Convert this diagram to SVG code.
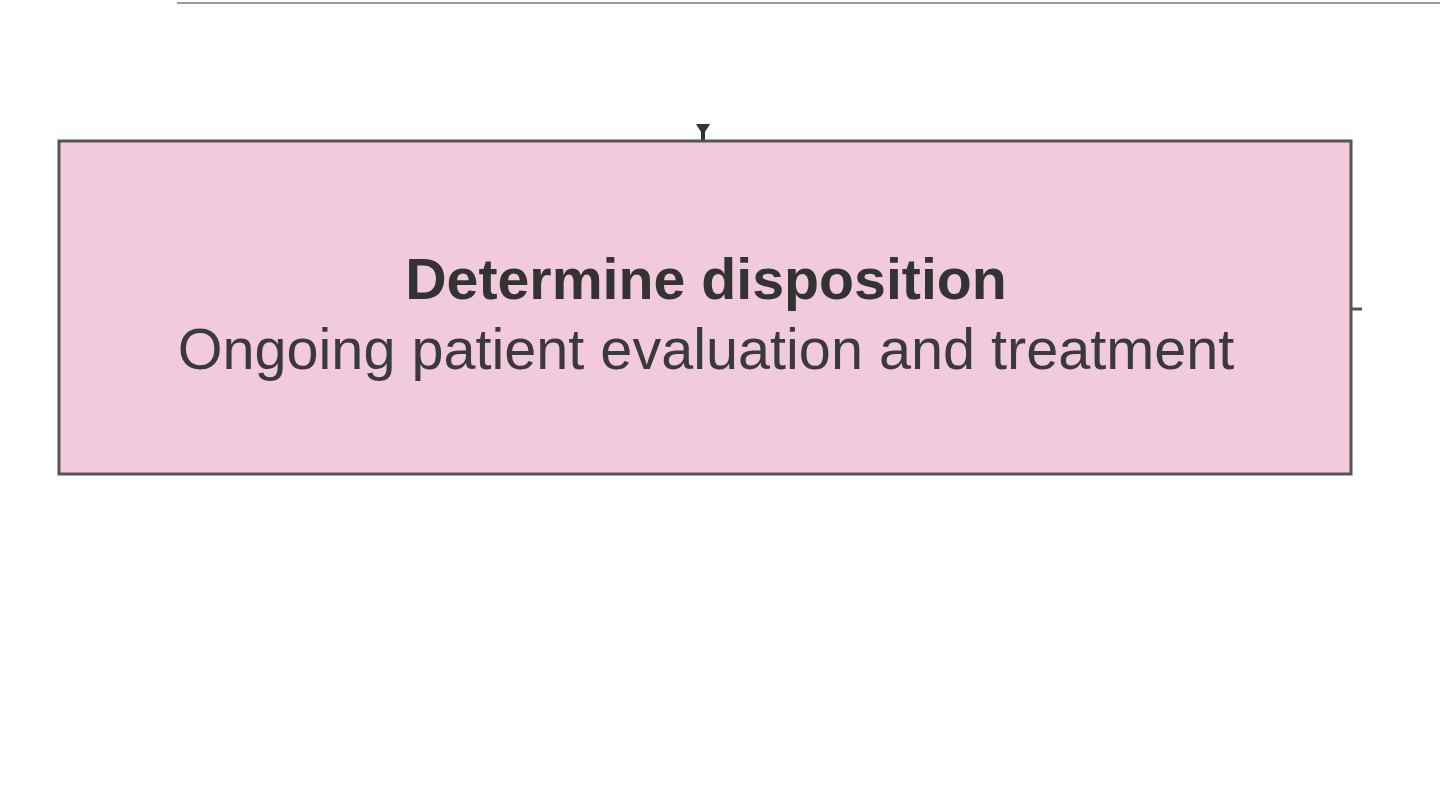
<svg xmlns="http://www.w3.org/2000/svg" width="1440" height="812" viewBox="0 0 1440 812">
  <style>
    .node { fill: #f1cade; stroke: #555555; stroke-width: 3; }
    .title { font-family: "Liberation Sans", Arial, sans-serif; font-weight: bold; font-size: 57.3px; fill: #333333; text-anchor: middle; }
    .sub { font-family: "Liberation Sans", Arial, sans-serif; font-size: 57.6px; fill: #3a3a3a; text-anchor: middle; }
    .conn { stroke: #555555; stroke-width: 3; fill: none; }
  </style>
  <rect width="1440" height="812" fill="#ffffff"/>
  <g id="connectors">
    <line x1="177" y1="3" x2="1440" y2="3" stroke="#9a9a9a" stroke-width="2"/>
    <path d="M696,124 L710,124 L705,132 L705,140 L701,140 L701,132 Z" fill="#333333"/>
    <line class="conn" x1="1351" y1="309" x2="1362" y2="309"/>
  </g>
  <g id="node-disposition">
    <rect class="node" x="59" y="141" width="1292" height="333"/>
    <text class="title" x="706" y="299">Determine disposition</text>
    <text class="sub" x="706" y="369">Ongoing patient evaluation and treatment</text>
  </g>
</svg>
